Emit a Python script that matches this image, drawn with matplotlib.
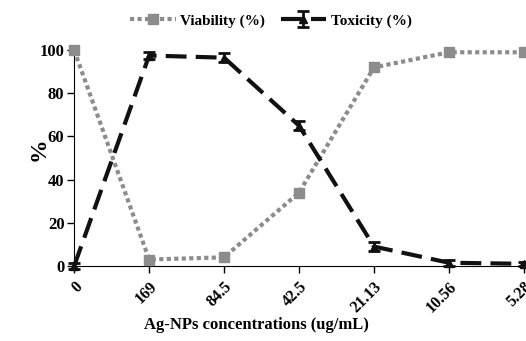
import matplotlib
matplotlib.use("Agg")
import matplotlib.pyplot as plt
import numpy as np

plt.rcParams['font.family'] = ['Liberation Serif', 'DejaVu Serif']
plt.rcParams['font.weight'] = 'bold'

concentrations = ['0', '169', '84.5', '42.5', '21.13', '10.56', '5.28']
viability = [100, 3, 4, 34, 92, 99, 99]
toxicity = [0, 97.5, 96.5, 65, 9, 1.5, 1]
toxicity_err = [1.5, 1.5, 2, 2, 2, 1.5, 1]

x = np.arange(len(concentrations))

fig = plt.figure(figsize=(5.26, 3.41), dpi=100)
ax = fig.add_axes([0.141, 0.22, 0.855, 0.633])

ax.plot(x, viability, color='#8c8c8c', linestyle=(0, (1, 0.8)), linewidth=3,
        marker='s', markersize=7, label='Viability (%)', clip_on=False, zorder=3)
ax.errorbar(x, toxicity, yerr=toxicity_err, color='#111111', linestyle=(0, (5, 2.2)),
            linewidth=3, marker='^', markersize=6, capsize=4, capthick=2,
            elinewidth=2, label='Toxicity (%)', clip_on=False, zorder=4)

ax.set_xlim(0, 6)
ax.set_ylim(0, 100)
ax.set_xticks(x)
ax.set_xticklabels(concentrations, rotation=45, ha='right', rotation_mode='anchor',
                   fontsize=11.5, fontweight='bold')
ax.set_yticks([0, 20, 40, 60, 80, 100])
ax.tick_params(axis='y', labelsize=12, length=5, width=1, pad=2)
ax.tick_params(axis='x', length=5, width=1, pad=4)
for lab in ax.get_yticklabels():
    lab.set_fontweight('bold')

ax.spines['top'].set_visible(False)
ax.spines['right'].set_visible(False)

ax.set_xlabel('Ag-NPs concentrations (ug/mL)', fontsize=12, fontweight='bold')
ax.xaxis.set_label_coords(0.405, -0.235)
ax.set_ylabel('%', fontsize=17, fontweight='bold')
ax.yaxis.set_label_coords(-0.055, 0.54)

fig.legend(loc='upper center', bbox_to_anchor=(0.515, 1.0), ncol=2, frameon=False,
           fontsize=11, handlelength=3, columnspacing=1.0, handletextpad=0.3)

fig.savefig('out.png', dpi=100)
